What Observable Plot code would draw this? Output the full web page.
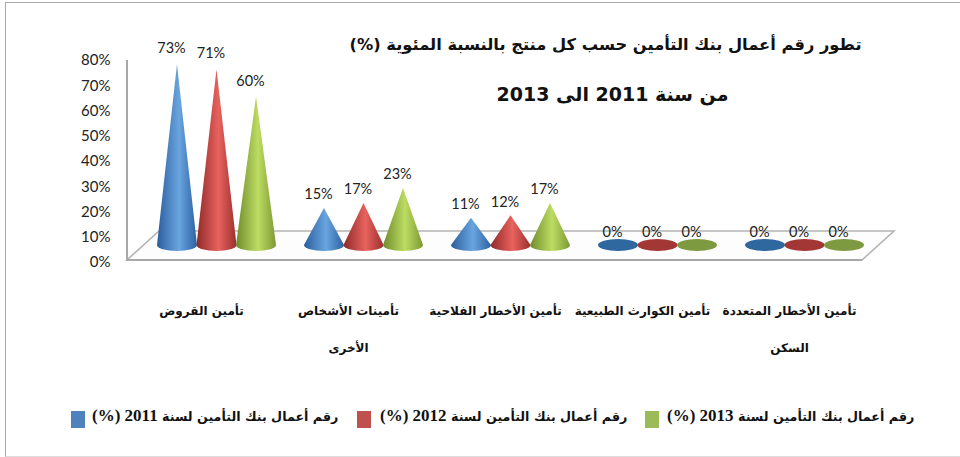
<!DOCTYPE html>
<html>
<head>
<meta charset="utf-8">
<script src="https://cdn.jsdelivr.net/npm/d3@7"></script>
<script src="https://cdn.jsdelivr.net/npm/@observablehq/plot@0.6"></script>
<style>
html,body{margin:0;padding:0;background:#fff;}
#wrap{position:relative;width:960px;height:457px;overflow:hidden;}
.ar text{direction:rtl;}
#legend{position:absolute;left:0;top:404px;width:960px;height:26px;font:bold 12.7px "DejaVu Sans",serif;color:#111;}
.sw{position:absolute;top:7px;width:14px;height:17px;}
.lab{position:absolute;top:0;height:26px;line-height:26px;white-space:nowrap;direction:rtl;}
.lab b{font:bold 17px "Liberation Serif",serif;}
#frame{position:absolute;left:5px;top:2px;width:960px;height:453px;border-left:1.5px solid #aaa;border-top:1.5px solid #aaa;border-bottom:1px solid #ddd;}
</style>
</head>
<body>
<div id="wrap"><div id="frame"></div><div id="chart" style="position:absolute;left:0;top:0"></div><div id="legend"></div></div>
<script>
const categories = ["تأمين القروض","تأمينات الأشخاص\nالأخرى","تأمين الأخطار الفلاحية","تأمين الكوارث الطبيعية","تأمين الأخطار المتعددة\nالسكن"];
const seriesNames = ["رقم أعمال بنك التأمين لسنة 2011 (%)","رقم أعمال بنك التأمين لسنة 2012 (%)","رقم أعمال بنك التأمين لسنة 2013 (%)"];
const values2011 = [73,15,11,0,0];
const values2012 = [71,17,12,0,0];
const values2013 = [60,23,17,0,0];
const yTicks = [0,10,20,30,40,50,60,70,80];
const titleLines = ["تطور رقم أعمال بنك التأمين حسب كل منتج بالنسبة المئوية (%)","من سنة 2011 الى 2013"];
const colors = ["#4f81bd","#c0504d","#9bbb59"];
const shades = [["#2a5e9c","#6aa5e0","#2c62a2"],["#8f2a2a","#e8625e","#9a302e"],["#6f8c2c","#bcdc62","#7c9a34"]];
const flats = ["#2f679f","#a23735","#7d9a40"];

const data = [values2011,values2012,values2013].flatMap((vals,s)=>vals.map((v,c)=>({category:categories[c],series:seriesNames[s],s,value:v})));

const coneShift = 17, coneScale = 0.98, rx = 20, ry = 6;

function floorRender(index,scales,values,dim){
  const g = d3.create("svg:g").attr("fill","none");
  const defs = g.append("defs");
  shades.forEach((sh,i)=>{
    const lg = defs.append("linearGradient").attr("id","cone"+i);
    lg.append("stop").attr("offset","0%").attr("stop-color",sh[0]);
    lg.append("stop").attr("offset","55%").attr("stop-color",sh[1]);
    lg.append("stop").attr("offset","100%").attr("stop-color",sh[2]);
  });
  const y0 = scales.y(0)-2, top = scales.y(80);
  const L = dim.marginLeft-16, R = dim.width-dim.marginRight-16, dx = 32, dy = 29;
  g.append("path").attr("d",`M${L},${y0}L${L+dx},${y0-dy}H${R+dx}L${R},${y0}Z`).attr("fill","#fdfdfd").attr("stroke","#b4b4b4").attr("stroke-width",1.6);
  g.append("path").attr("d",`M${L},${top}V${y0}H${R}`).attr("stroke","#a8a8a8").attr("stroke-width",2);
  return g.node();
}
function coneRender(index,scales,values){
  const g = d3.create("svg:g");
  const base0 = scales.y(0)-coneShift;
  for(const i of index){
    const x = values.x[i], h = coneScale*(scales.y(0)-values.y[i]), s = data[i].s;
    if(h<=0){
      g.append("ellipse").attr("cx",x).attr("cy",base0).attr("rx",rx).attr("ry",ry).attr("fill",flats[s]);
    } else {
      g.append("path").attr("d",`M${x-rx},${base0}A${rx},${ry} 0 0 0 ${x+rx},${base0}L${x},${base0-h}Z`).attr("fill",`url(#cone${s})`);
    }
  }
  return g.node();
}

const titleFont = '"DejaVu Sans",serif';
const chart = Plot.plot({
  width:960,height:380,
  marginLeft:143,marginRight:82,marginTop:0,marginBottom:80,
  style:{background:"transparent",fontFamily:'Lato,sans-serif',overflow:"visible"},
  fx:{domain:categories,padding:0,label:null,round:false},
  x:{type:"point",domain:seriesNames,padding:0.86,round:false,axis:null},
  y:{domain:[0,80],range:[262,60],label:null,axis:null},
  marks:[
    Plot.dot([0],{frameAnchor:"middle",facet:"super",render:floorRender}),
    Plot.axisY({anchor:"left",ticks:yTicks,tickSize:0,tickPadding:33,tickFormat:d=>d+"%",fontSize:15,label:null,fill:"#222"}),
    Plot.axisFx({anchor:"bottom",tickSize:0,tickPadding:-12,label:null,lineHeight:3.08,fontSize:12,fontWeight:"bold",fontFamily:titleFont,fill:"#111",dx:-15.5,className:"ar"}),
    Plot.dot(data,{x:"series",y:"value",fx:"category",r:1,render:coneRender}),
    Plot.text(data,{x:"series",y:"value",fx:"category",text:d=>d.value+"%",dy:-30,dx:-6,fontSize:14.5,fill:"#222"}),
    Plot.text([titleLines[0]],{frameAnchor:"top-left",facet:"super",dx:462,dy:44,textAnchor:"middle",lineAnchor:"middle",fontSize:16.3,fontWeight:"bold",fontFamily:titleFont,fill:"#111",className:"ar"}),
    Plot.text([titleLines[1]],{frameAnchor:"top-left",facet:"super",dx:469,dy:94,textAnchor:"middle",lineAnchor:"middle",fontSize:19,fontWeight:"bold",fontFamily:titleFont,fill:"#111",className:"ar"})
  ]
});
document.getElementById("chart").append(chart);

const legendX = [[71,92],[357,380],[645,667]];
const leg = d3.select("#legend");
seriesNames.forEach((name,i)=>{
  leg.append("div").attr("class","sw").style("left",legendX[i][0]+"px").style("background",colors[i]);
  const m = name.match(/^(.*?)(\d{4} \(%\))$/);
  const lab = leg.append("div").attr("class","lab").style("left",legendX[i][1]+"px");
  lab.append("span").text(m[1]);
  lab.append("b").text(m[2]);
});
</script>
</body>
</html>
